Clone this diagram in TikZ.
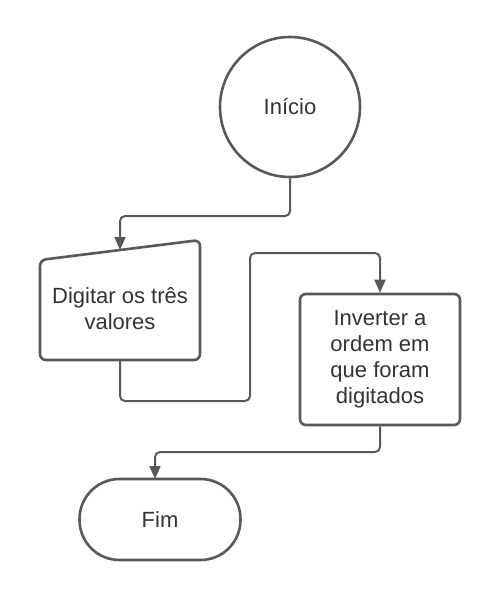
\documentclass[tikz,border=0pt]{standalone}
\usepackage{fontspec}
\setmainfont{Liberation Sans}
\usetikzlibrary{arrows.meta}
\definecolor{linecol}{HTML}{595959}
\definecolor{txtcol}{HTML}{333333}
\begin{document}
\begin{tikzpicture}[x=1pt,y=-1pt,
  lbl/.style={text=txtcol,font=\fontsize{22}{26}\selectfont,align=center},
  shapeline/.style={draw=linecol,line width=2.6pt},
  conn/.style={draw=linecol,line width=2pt,rounded corners=5pt,-{Triangle[length=13pt,width=11pt]}}]
\useasboundingbox (0,0) rectangle (500,600);
% start
\node[shapeline,circle,minimum size=140pt,inner sep=0pt,lbl] (start) at (290,107) {Início};
% manual input
\coordinate (inTL) at (40,260);
\coordinate (inTR) at (200,240);
\coordinate (inBR) at (200,360);
\coordinate (inBL) at (40,360);
\draw[shapeline,rounded corners=6pt] (inTL) -- (inTR) -- (inBR) -- (inBL) -- cycle;
\node[lbl] (inp) at (120,309) {Digitar os três\\valores};
\coordinate (inTop) at (120,250);
\coordinate (inBot) at (120,360);
% process
\node[shapeline,rectangle,rounded corners=6pt,minimum width=160pt,minimum height=131pt,inner sep=0pt,lbl] (proc) at (380,359.5) {Inverter a\\ordem em\\que foram\\digitados};
% end
\node[shapeline,rectangle,rounded corners=40pt,minimum width=161pt,minimum height=81pt,inner sep=0pt,lbl] (fim) at (160,519.5) {Fim};
% connectors
\draw[conn] (start.south) -- (290,216) -- (120,216) -- (inTop);
\draw[conn] (inBot) -- (120,401) -- (250,401) -- (250,253) -- (380,253) -- (proc.north);
\draw[conn] (proc.south) -- (380,452) -- (155,452) -- (155,479);
\end{tikzpicture}
\end{document}
